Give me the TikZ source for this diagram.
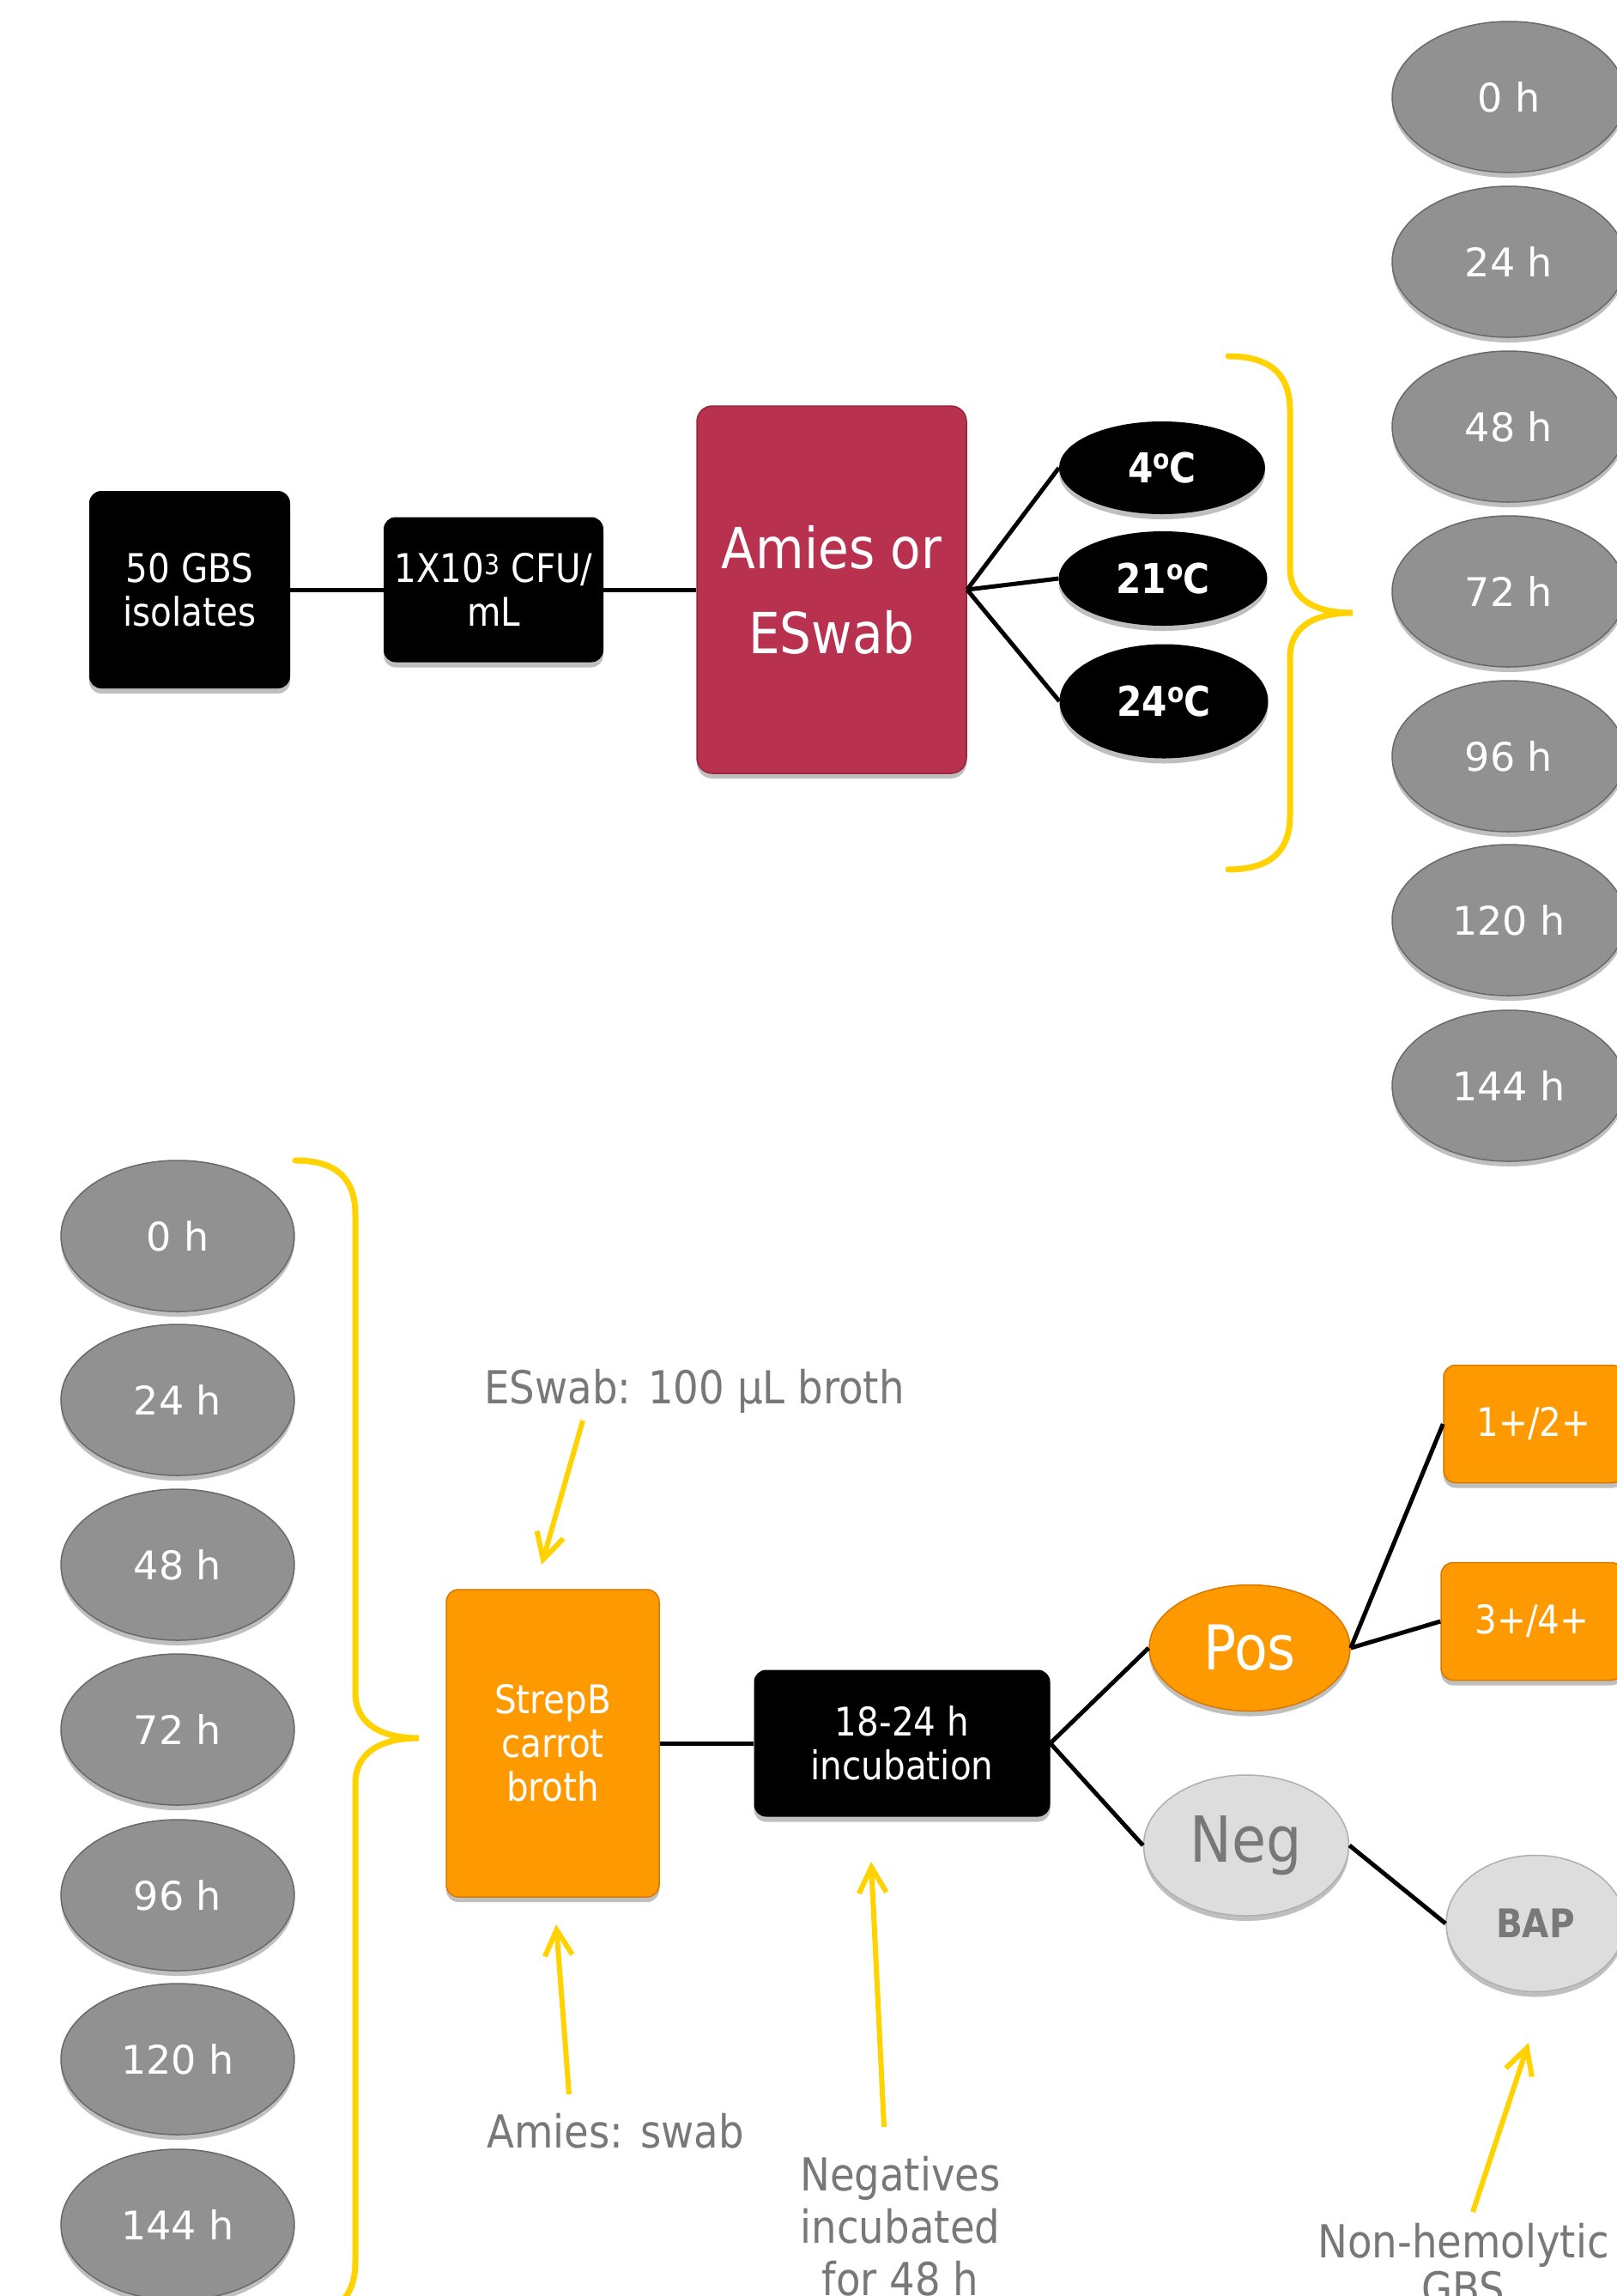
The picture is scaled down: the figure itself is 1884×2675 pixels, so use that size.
\documentclass[tikz,border=0pt]{standalone}
\usepackage{fontspec}
\setmainfont{DejaVu Sans}
\newfontfamily\tah{DejaVu Sans}[FakeStretch=0.88]
\usetikzlibrary{arrows.meta,shapes.geometric,shadows}
\newcommand\degsup{\raisebox{0.33em}{\fontsize{32}{32}\selectfont o}}
\definecolor{crim}{RGB}{184,49,79}
\definecolor{crimd}{RGB}{150,36,62}
\definecolor{orng}{RGB}{255,153,0}
\definecolor{orngd}{RGB}{215,120,0}
\definecolor{hgray}{RGB}{145,145,145}
\definecolor{hgrayd}{RGB}{105,105,105}
\definecolor{lgray}{RGB}{221,221,221}
\definecolor{lgrayd}{RGB}{175,175,175}
\definecolor{txtgray}{RGB}{120,120,120}
\definecolor{gold}{RGB}{255,210,0}
\begin{document}
\begin{tikzpicture}[x=1pt,y=-1pt,
  shad/.style={drop shadow={shadow xshift=0pt,shadow yshift=-6pt,opacity=0.25,fill=black}},
  blackbox/.style={rectangle,rounded corners=14pt,fill=black,text=white,align=center,inner sep=0pt,shad,
    font=\tah\fontsize{46}{51}\selectfont},
  crimbox/.style={rectangle,rounded corners=18pt,fill=crim,draw=crimd,line width=1.5pt,text=white,align=center,inner sep=0pt,shad,
    font=\tah\fontsize{66}{99}\selectfont},
  orbox/.style={rectangle,rounded corners=14pt,fill=orng,draw=orngd,line width=1.5pt,text=white,align=center,inner sep=0pt,shad,
    font=\tah\fontsize{46}{51}\selectfont},
  temp/.style={ellipse,fill=black,text=white,inner sep=0pt,shad,minimum width=240pt,
    font=\tah\bfseries\fontsize{48}{50}\selectfont},
  hour/.style={ellipse,fill=hgray,draw=hgrayd,line width=1.5pt,text=white,inner sep=0pt,shad,
    minimum width=272pt,minimum height=176pt,font=\fontsize{46}{50}\selectfont},
  posell/.style={ellipse,fill=orng,draw=orngd,line width=1.5pt,text=white,inner sep=0pt,shad,
    font=\tah\fontsize{72}{75}\selectfont},
  negell/.style={ellipse,fill=lgray,draw=lgrayd,line width=1.5pt,text=txtgray,inner sep=0pt,shad},
  note/.style={text=txtgray,align=center,inner sep=0pt,font=\tah\fontsize{53}{61}\selectfont},
  conn/.style={draw=black,line width=5pt},
  brace/.style={draw=gold,line width=7pt,line cap=round},
  yarrow/.style={draw=gold,line width=6pt,-{Straight Barb[length=30pt,width=32pt]}}
]
\clip (0,0) rectangle (1884,2675);
\fill[white] (0,0) rectangle (1884,2675);

% ---------- top part ----------
\node[blackbox,minimum width=234pt,minimum height=230pt] (iso) at (221,687) {50 GBS\\isolates};
\node[blackbox,minimum width=256pt,minimum height=169pt] (cfu) at (575,687) {1X10\textsuperscript{3} CFU/\\mL};
\node[crimbox,minimum width=314pt,minimum height=428pt] (amies) at (969,687) {Amies or\\ESwab};

\node[temp,minimum height=108pt] (t4) at (1354,545) {4\degsup C};
\node[temp,minimum height=110pt,minimum width=243pt] (t21) at (1355,674) {21\degsup C};
\node[temp,minimum height=133pt,minimum width=243pt] (t24) at (1356,817) {24\degsup C};

\draw[conn] (iso.east) -- (cfu.west);
\draw[conn] (cfu.east) -- (amies.west);
\draw[conn] (amies.east) -- (t4.west);
\draw[conn] (amies.east) -- (t21.west);
\draw[conn] (amies.east) -- (t24.west);

\draw[brace] (1431,415) .. controls (1482,415) and (1503,438) .. (1503,478)
  -- (1503,662) .. controls (1503,697) and (1530,714) .. (1576,714)
  .. controls (1530,714) and (1503,731) .. (1503,766)
  -- (1503,950) .. controls (1503,990) and (1482,1013) .. (1431,1013);

\node[hour] (r0) at (1758,113) {0 h};
\node[hour] (r24) at (1758,305) {24 h};
\node[hour] (r48) at (1758,497) {48 h};
\node[hour] (r72) at (1758,689) {72 h};
\node[hour] (r96) at (1758,881) {96 h};
\node[hour] (r120) at (1758,1072) {120 h};
\node[hour] (r144) at (1758,1265) {144 h};

% ---------- bottom part ----------
\node[hour] (l0) at (207,1440) {0 h};
\node[hour] (l24) at (207,1631) {24 h};
\node[hour] (l48) at (207,1823) {48 h};
\node[hour] (l72) at (207,2015) {72 h};
\node[hour] (l96) at (207,2208) {96 h};
\node[hour] (l120) at (207,2399) {120 h};
\node[hour] (l144) at (207,2592) {144 h};

\draw[brace] (344,1352) .. controls (394,1352) and (414,1375) .. (414,1415)
  -- (414,1972) .. controls (414,2007) and (442,2025) .. (488,2025)
  .. controls (442,2025) and (414,2043) .. (414,2078)
  -- (414,2635) .. controls (414,2675) and (394,2698) .. (344,2698);

\node[orbox,minimum width=248pt,minimum height=358pt] (strep) at (644,2031) {StrepB\\carrot\\broth};
\node[blackbox,minimum width=345pt,minimum height=171pt] (inc) at (1051,2031) {18-24 h\\incubation};
\node[posell,minimum width=234pt,minimum height=147pt] (pos) at (1456,1920) {Pos};
\node[negell,minimum width=239pt,minimum height=164pt,font=\tah\fontsize{74}{76}\selectfont] (neg) at (1452,2150) {Neg};
\node[orbox,minimum width=210pt,minimum height=137pt] (p12) at (1787,1659) {1+/2+};
\node[orbox,minimum width=212pt,minimum height=137pt] (p34) at (1785,1889) {3+/4+};
\node[negell,minimum width=208pt,minimum height=159pt,font=\tah\bfseries\fontsize{46}{50}\selectfont] (bap) at (1789,2241) {BAP};

\draw[conn] (strep.east) -- (inc.west);
\draw[conn] (inc.east) -- (pos.west);
\draw[conn] (inc.east) -- (neg.west);
\draw[conn] (pos.east) -- (p12.west);
\draw[conn] (pos.east) -- (p34.west);
\draw[conn] (neg.east) -- (bap.west);

% ---------- annotations ----------
\node[note] (n1) at (809,1621) {ESwab: 100 µL broth};
\node[note] (n2) at (717,2483) {Amies: swab};
\node[note] (n3) at (1049,2594) {Negatives\\incubated\\for 48 h};
\node[note,font=\tah\fontsize{53}{55}\selectfont] (n4) at (1705,2638) {Non-hemolytic\\GBS};

\coordinate (a1s) at (679,1655); \coordinate (a1e) at (631,1823);
\coordinate (a2s) at (663,2440); \coordinate (a2e) at (648,2242);
\coordinate (a3s) at (1030,2478); \coordinate (a3e) at (1015,2169);
\coordinate (a4s) at (1716,2577); \coordinate (a4e) at (1781,2380);
\draw[yarrow] (a1s) -- (a1e);
\draw[yarrow] (a2s) -- (a2e);
\draw[yarrow] (a3s) -- (a3e);
\draw[yarrow] (a4s) -- (a4e);
\end{tikzpicture}
\end{document}
